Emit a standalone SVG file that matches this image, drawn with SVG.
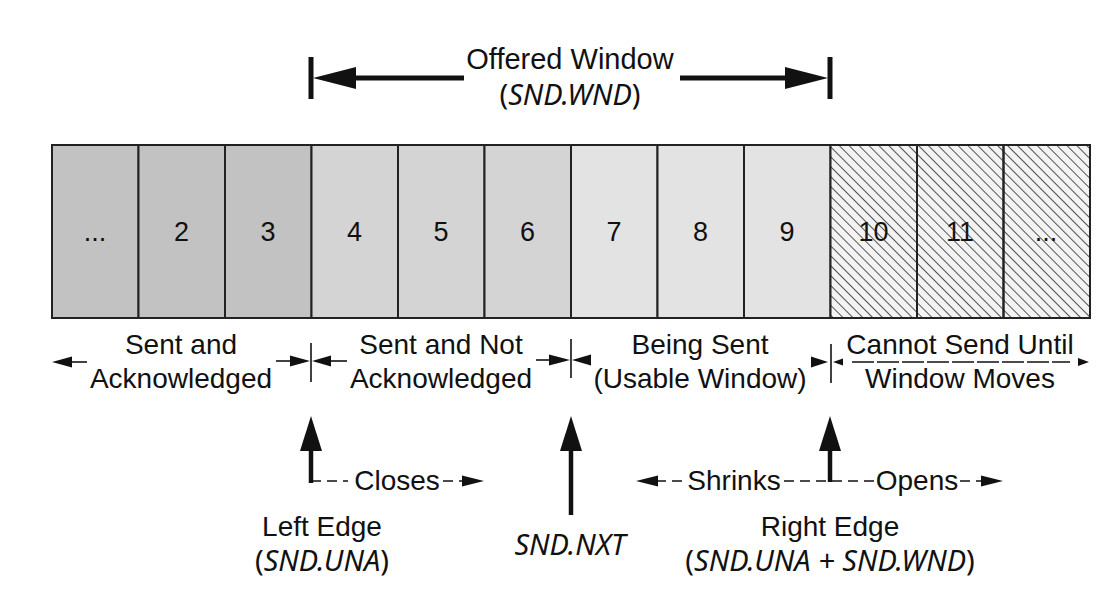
<svg xmlns="http://www.w3.org/2000/svg" width="1120" height="602" viewBox="0 0 1120 602">
<style>
.t{font-family:"Liberation Sans",Arial,sans-serif;font-size:28px;fill:#111;text-anchor:middle}
.c{font-family:"Liberation Sans",Arial,sans-serif;font-size:27px;fill:#111;text-anchor:middle}
.i{font-family:"Noto Sans","DejaVu Sans",sans-serif;font-size:29px;fill:#111;text-anchor:middle}
.it{font-style:italic}
.cell{stroke:#222;stroke-width:2}
.d1{fill:#c2c2c2}.d2{fill:#d4d4d4}.d3{fill:#e3e3e3}.d4{fill:#f3f3f3}
.thin{stroke:#111;stroke-width:1.6;fill:none}
.dash{stroke:#111;stroke-width:1.6;fill:none;stroke-dasharray:10 6}
.thick{stroke:#111;stroke-width:5;fill:none}
.ah{fill:#111}
</style>
<defs>
<pattern id="hatch" width="7" height="7" patternUnits="userSpaceOnUse" patternTransform="rotate(-45)">
<line x1="0" y1="0" x2="0" y2="7" stroke="#2a2a2a" stroke-width="1.6"/>
</pattern>
</defs>

<g id="offered-window">
<line class="thick" x1="311" y1="57" x2="311" y2="99"/>
<line class="thick" x1="830" y1="57" x2="830" y2="99"/>
<line class="thick" x1="340" y1="78" x2="464" y2="78"/>
<line class="thick" x1="680" y1="78" x2="800" y2="78"/>
<polygon class="ah" points="313,78 356,67 356,89"/>
<polygon class="ah" points="828,78 785,67 785,89"/>
<text class="t" x="570" y="69" style="font-size:29px">Offered Window</text>
<text class="i" x="570" y="105">(<tspan class="it">SND.WND</tspan>)</text>
</g>

<g id="cells">
<rect class="cell d1" x="52" y="145" width="86.5" height="173"/>
<rect class="cell d1" x="138.5" y="145" width="86.5" height="173"/>
<rect class="cell d1" x="225" y="145" width="86.5" height="173"/>
<rect class="cell d2" x="311.5" y="145" width="86.5" height="173"/>
<rect class="cell d2" x="398" y="145" width="86.5" height="173"/>
<rect class="cell d2" x="484.5" y="145" width="86.5" height="173"/>
<rect class="cell d3" x="571" y="145" width="86.5" height="173"/>
<rect class="cell d3" x="657.5" y="145" width="86.5" height="173"/>
<rect class="cell d3" x="744" y="145" width="86.5" height="173"/>
<rect class="d4" x="830.5" y="145" width="259.5" height="173"/>
<text class="c" x="95" y="241">...</text>
<text class="c" x="181.5" y="241">2</text>
<text class="c" x="268" y="241">3</text>
<text class="c" x="354.5" y="241">4</text>
<text class="c" x="441" y="241">5</text>
<text class="c" x="527.5" y="241">6</text>
<text class="c" x="614" y="241">7</text>
<text class="c" x="700.5" y="241">8</text>
<text class="c" x="787" y="241">9</text>
<text class="c" x="873.5" y="241">10</text>
<text class="c" x="960" y="241">11</text>
<text class="c" x="1046" y="241">...</text>
<rect x="830.5" y="145" width="259.5" height="173" fill="url(#hatch)"/>
<rect class="cell" fill="none" x="830.5" y="145" width="86.5" height="173"/>
<rect class="cell" fill="none" x="917" y="145" width="86.5" height="173"/>
<rect class="cell" fill="none" x="1003.5" y="145" width="86.5" height="173"/>
</g>

<g id="region-labels">
<text class="t" x="181" y="354">Sent and</text>
<text class="t" x="181" y="388">Acknowledged</text>
<text class="t" x="441" y="354">Sent and Not</text>
<text class="t" x="441" y="388">Acknowledged</text>
<text class="t" x="700" y="354">Being Sent</text>
<text class="t" x="700" y="388">(Usable Window)</text>
<text class="t" x="960" y="354">Cannot Send Until</text>
<text class="t" x="960" y="388">Window Moves</text>
</g>

<g id="connectors">
<line class="thin" x1="70" y1="362" x2="87" y2="362"/>
<polygon class="ah" points="52,362 72,356.5 72,367.5"/>
<line class="thin" x1="276" y1="361" x2="292" y2="361"/>
<polygon class="ah" points="310,361 290,355.5 290,366.5"/>
<line class="thin" x1="311" y1="343" x2="311" y2="382"/>
<polygon class="ah" points="312,361 331,355.5 331,366.5"/>
<line class="thin" x1="330" y1="361" x2="347" y2="361"/>
<line class="thin" x1="536" y1="360" x2="550" y2="360"/>
<polygon class="ah" points="570,360 549,354.5 549,365.5"/>
<line class="thin" x1="571" y1="339" x2="571" y2="378"/>
<polygon class="ah" points="572,360 591,354.5 591,365.5"/>
<polygon class="ah" points="828,362 811,356.5 811,367.5"/>
<line class="thin" x1="831" y1="344" x2="831" y2="383"/>
<polygon class="ah" points="833,362 843,358.5 843,365.5"/>
<line class="dash" x1="852" y1="362" x2="1070" y2="362" style="stroke-dasharray:22 3"/>
<polygon class="ah" points="1089,362 1078,358 1078,366"/>

<line class="thick" x1="311" y1="445" x2="311" y2="483" style="stroke-width:4.5"/>
<polygon class="ah" points="311,416 300,451 322,451"/>
<line class="dash" x1="311" y1="481" x2="348" y2="481"/>
<line class="dash" x1="443" y1="481" x2="464" y2="481"/>
<polygon class="ah" points="484,481 462,475.5 462,486.5"/>

<line class="thick" x1="571" y1="445" x2="571" y2="515" style="stroke-width:4.5"/>
<polygon class="ah" points="571,416 560,451 582,451"/>

<line class="thick" x1="830" y1="445" x2="830" y2="482" style="stroke-width:4.5"/>
<polygon class="ah" points="830,416 819,451 841,451"/>
<polygon class="ah" points="636,481 658,475.5 658,486.5"/>
<line class="dash" x1="656" y1="481" x2="686" y2="481"/>
<line class="dash" x1="784" y1="481" x2="876" y2="481"/>
<line class="dash" x1="960" y1="481" x2="984" y2="481"/>
<polygon class="ah" points="1003,481 981,475.5 981,486.5"/>
</g>

<g id="edge-labels">
<text class="t" x="397" y="490">Closes</text>
<text class="t" x="734" y="490">Shrinks</text>
<text class="t" x="917" y="490">Opens</text>
<text class="t" x="322" y="536">Left Edge</text>
<text class="i" x="322" y="571">(<tspan class="it">SND.UNA</tspan>)</text>
<text class="i it" x="570" y="555">SND.NXT</text>
<text class="t" x="830" y="536">Right Edge</text>
<text class="i" x="830" y="571">(<tspan class="it">SND.UNA + SND.WND</tspan>)</text>
</g>
</svg>
